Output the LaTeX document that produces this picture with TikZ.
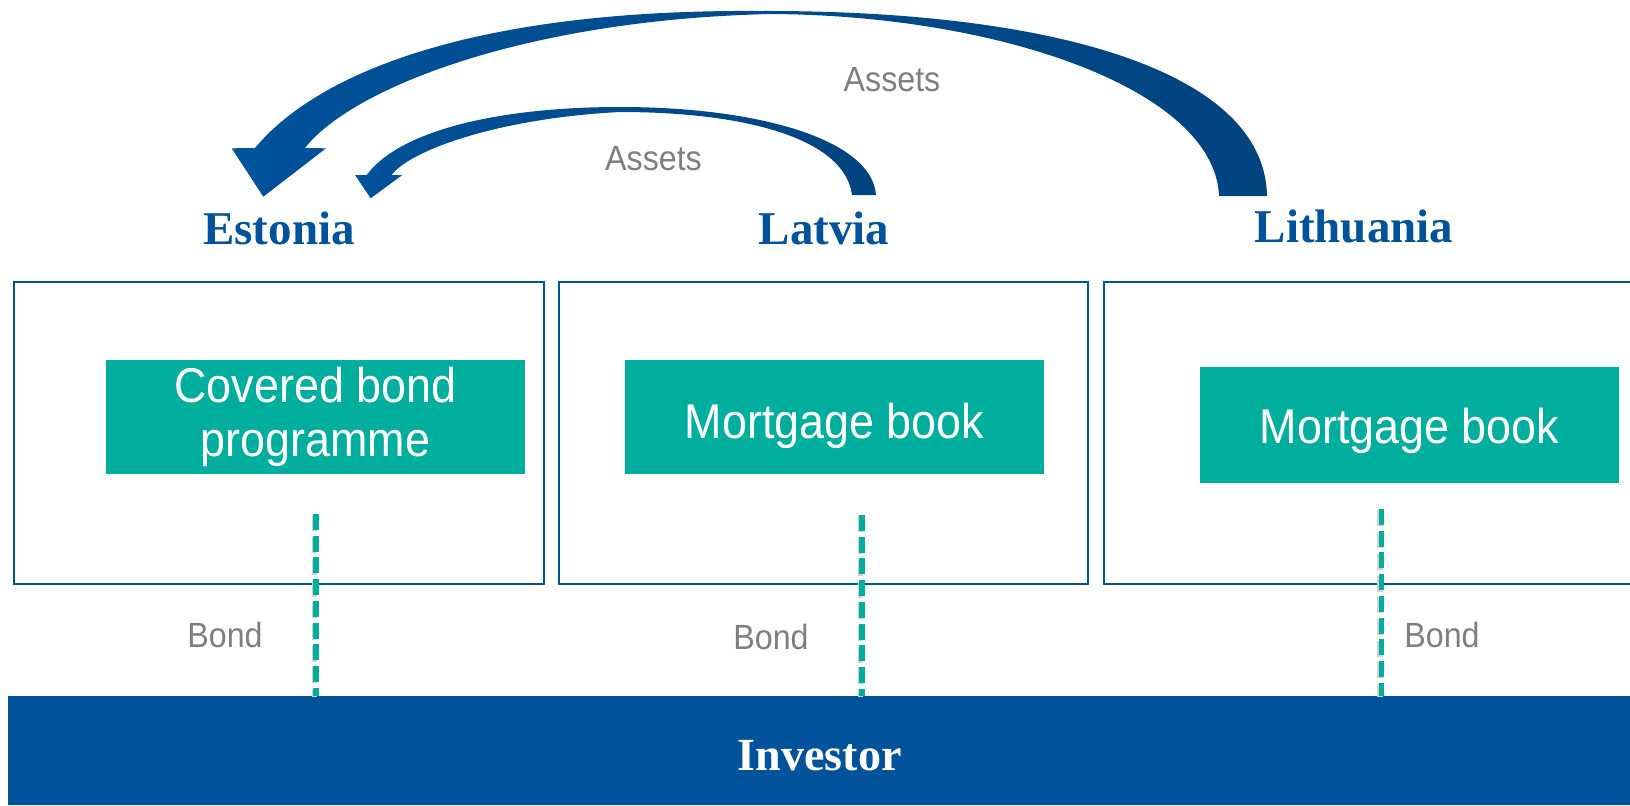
\documentclass[tikz,border=0pt]{standalone}
\usepackage{fontspec}
\newfontfamily\diagsans{Liberation Sans}[FakeStretch=0.92]
\newfontfamily\diagserif{Liberation Serif}
\definecolor{cblue}{RGB}{0,82,155}
\definecolor{cdark}{RGB}{0,68,128}
\definecolor{cteal}{RGB}{0,174,157}
\definecolor{cgray}{RGB}{127,127,127}

\begin{document}
\begin{tikzpicture}[x=0.5pt,y=-0.5pt,
  country/.style={anchor=base, inner sep=0pt, text=cblue,
    font=\diagserif\bfseries\fontsize{23.5}{28}\selectfont},
  smalllabel/.style={anchor=base, inner sep=0pt, text=cgray,
    font=\diagsans\fontsize{17.5}{21}\selectfont},
  frame/.style={draw=cblue, line width=1pt, fill=white, inner sep=0pt,
    minimum height=151pt},
  book/.style={fill=cteal, text=white, inner sep=0pt, minimum width=209.5pt,
    minimum height=57pt, align=center,
    font=\diagsans\fontsize{24.4}{24.25}\selectfont},
  bondline/.style={draw=cteal, line width=2.8pt, dash pattern=on 8pt off 2.85pt,
    preaction={draw=black!18, line width=2.8pt, dash pattern=on 8pt off 2.85pt,
      transform canvas={xshift=-0.7pt, yshift=-0.7pt}}},
  arrowfill/.style={left color=cblue, right color=cdark}
]
\useasboundingbox (0,0) rectangle (1630,805);
\clip (0,0) rectangle (1630,805);

% country frames
\node[frame, minimum width=264.7pt] (estframe) at (279.15,433) {};
\node[frame, minimum width=264.7pt] (latframe) at (823.7,433) {};
\node[frame, minimum width=298.25pt] (litframe) at (1401.75,433) {};

% content boxes
\node[book] (estbook) at (315.5,417) {Covered bond\\[2.6pt]programme};
\node[book, text height=24pt, text depth=2.3pt] (latbook) at (834.5,417) {Mortgage book};
\node[book, minimum height=58pt, text height=21.2pt, text depth=2.3pt] (litbook) at (1409.5,425) {Mortgage book};

% investor bar
\node[fill=cblue, text=white, inner sep=0pt, minimum width=811.7pt,
      minimum height=54.5pt, text height=19.5pt, text depth=0pt,
      font=\diagserif\bfseries\fontsize{23}{28}\selectfont] (inv) at (819.7,750.5) {Investor};

% bond flows
\coordinate (estbond) at (316,514);
\coordinate (latbond) at (861.8,515);
\coordinate (litbond) at (1381.6,509);
\draw[bondline] (estbond) -- (estbond |- inv.north);
\draw[bondline] (latbond) -- (latbond |- inv.north);
\draw[bondline] (litbond) -- (litbond |- inv.north);

\node[smalllabel] (bondest) at (225,647) {Bond};
\node[smalllabel] (bondlat) at (771,649.7) {Bond};
\node[smalllabel] (bondlit) at (1442,647) {Bond};

% country names
\node[country] (estonia) at (279,244) {Estonia};
\node[country] (latvia) at (824,244) {Latvia};
\node[country] (lithuania) at (1354,242) {Lithuania};

% asset transfer arrows
\shade[arrowfill] (1267,196) .. controls (1265,70) and (1050,10) .. (760,11)
  .. controls (480,9) and (320,70) .. (255,148)
  -- (231.7,148.3) -- (263.3,196.7) -- (326,148.3) -- (305,148)
  .. controls (350,90) and (520,20) .. (770,14)
  .. controls (1000,15) and (1215,90) .. (1219,196) -- cycle;

\shade[arrowfill] (876,195) .. controls (872,140) and (760,107) .. (620,107)
  .. controls (500,107) and (400,130) .. (366.7,175)
  -- (355,175) -- (370.7,198.3) -- (402.3,175) -- (391.7,175)
  .. controls (410,150) and (500,118) .. (620,112)
  .. controls (750,112) and (845,140) .. (852,195) -- cycle;

\node[smalllabel] (assetsfar) at (892,91) {Assets};
\node[smalllabel] (assetsnear) at (653.5,170) {Assets};
\end{tikzpicture}
\end{document}
